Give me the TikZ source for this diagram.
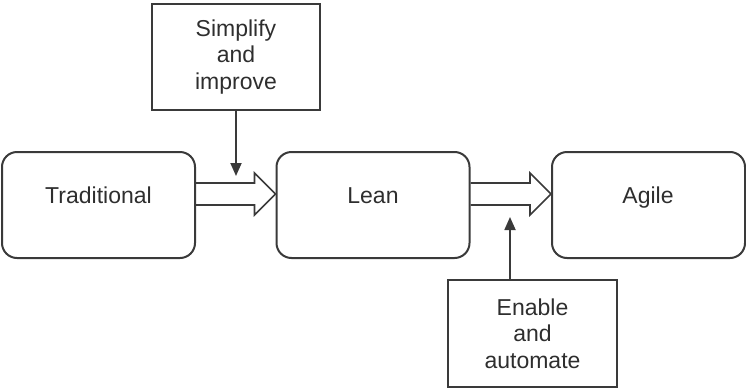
\documentclass[tikz,border=0pt]{standalone}
\usepackage{fontspec}
\setmainfont{Liberation Sans}
\usetikzlibrary{arrows.meta,calc}
\definecolor{ln}{HTML}{3A3A3A}
\definecolor{tx}{HTML}{2E2E2E}
\begin{document}
\begin{tikzpicture}[x=1pt,y=-1pt,
  phase/.style={draw=ln, line width=2pt, rounded corners=15pt, minimum width=193pt, minimum height=106pt, inner sep=0pt},
  note/.style={draw=ln, line width=1.6pt, inner sep=0pt, text=tx, align=center, font=\fontsize{23}{26.5}\selectfont},
  lbl/.style={text=tx, font=\fontsize{23}{26.5}\selectfont, inner sep=0pt, anchor=base},
  hollow/.style={draw=ln, line width=1.6pt, line join=miter},
  push/.style={draw=ln, line width=1.8pt, -{Triangle[length=13pt,width=11pt]}}]
\useasboundingbox (0,0) rectangle (746,391);
% phases
\node[phase] (trad) at (98.5,205) {};
\node[phase] (lean) at (373,205) {};
\node[phase] (agile) at (648.5,205) {};
\node[lbl] (tradt) at (98.5,203) {Traditional};
\node[lbl] (leant) at (373,203) {Lean};
\node[lbl] (agilet) at (648,203) {Agile};
% hollow arrows
\draw[hollow] ($(trad.east)+(0,-22)$) -- ($(lean.west)+(-21,-22)$) -- ($(lean.west)+(-21,-32)$)
  -- ($(lean.west)+(0,-11)$) -- ($(lean.west)+(-21,10)$) -- ($(lean.west)+(-21,0)$) -- (trad.east);
\draw[hollow] ($(lean.east)+(0,-22)$) -- ($(agile.west)+(-21,-22)$) -- ($(agile.west)+(-21,-32)$)
  -- ($(agile.west)+(0,-11)$) -- ($(agile.west)+(-21,10)$) -- ($(agile.west)+(-21,0)$) -- (lean.east);
% notes
\node[note, minimum width=168pt, minimum height=106pt] (simp) at (236,57) {Simplify\\and\\improve};
\node[note, minimum width=169pt, minimum height=107pt] (enab) at (532.5,333.5) {Enable\\and\\automate};
\coordinate (simptip) at (236,176);
\coordinate (enabtip) at (510,217);
\draw[push] (simp.south) -- (simptip);
\draw[push] (enab.north -| enabtip) -- (enabtip);
\end{tikzpicture}
\end{document}
